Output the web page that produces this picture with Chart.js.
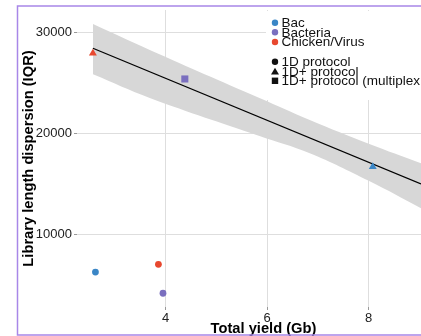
<!DOCTYPE html>
<html>
<head>
<meta charset="utf-8">
<script src="https://cdn.jsdelivr.net/npm/chart.js@4"></script>
<style>
  html, body { margin: 0; padding: 0; background: #fff; overflow: hidden; }
  canvas { display: block; }
</style>
</head>
<body>
<canvas id="yieldChart" width="421" height="336"></canvas>
<script>
// Data
const yieldGb = [2.62, 3.86, 3.95, 2.57, 4.38, 8.08];
const iqr = [6300, 7070, 4200, 27960, 25420, 16730];
const species = ["Bac", "Chicken/Virus", "Bacteria", "Chicken/Virus", "Bacteria", "Bac"];
const protocol = ["1D protocol", "1D protocol", "1D protocol", "1D+ protocol", "1D+ protocol (multiplex", "1D+ protocol"];

// linear fit and its confidence band
const fitX = [2.57, 9.03];
const fitY = [28460, 15030];
const bandX = [2.57, 3.69, 5.85, 6.84, 8.0, 9.03];
const bandUpper = [30860, 28290, 23530, 21360, 19010, 17080];
const bandLower = [25880, 23540, 19770, 18060, 15330, 12620];

const xTicks = [4, 6, 8];
const yTicks = [10000, 20000, 30000];

const speciesNames = ["Bac", "Bacteria", "Chicken/Virus"];
const protocolNames = ["1D protocol", "1D+ protocol", "1D+ protocol (multiplex"];

// styles
const speciesColor = { "Bac": "#3a86c6", "Bacteria": "#7a6fbf", "Chicken/Virus": "#e8482f" };
const protocolShape = { "1D protocol": "circle", "1D+ protocol": "triangle", "1D+ protocol (multiplex": "rect" };
const shapeRadius = { circle: 3.4, triangle: 4.6, rect: 5 };
const font = "'Liberation Sans', Arial, sans-serif";

const points = yieldGb.map((x, i) => ({ x: x, y: iqr[i] }));
const pointShapes = protocol.map(p => protocolShape[p]);

const overlay = {
    id: "overlay",
    afterDraw(chart) {
        const ctx = chart.ctx;
        ctx.save();

        // legend box
        ctx.fillStyle = "#fff";
        ctx.fillRect(266, 11, 160, 89);

        ctx.font = "13.5px " + font;
        ctx.textAlign = "left";
        ctx.textBaseline = "alphabetic";
        const colorRows = [22.7, 32.2, 42];
        speciesNames.forEach((name, i) => {
            ctx.fillStyle = speciesColor[name];
            ctx.beginPath();
            ctx.arc(275, colorRows[i], 3.2, 0, Math.PI * 2);
            ctx.fill();
            ctx.fillStyle = "#111";
            ctx.fillText(name, 281.5, colorRows[i] + 4.3);
        });

        const shapeRows = [61.8, 71.5, 80.8];
        protocolNames.forEach((name, i) => {
            ctx.fillStyle = "#111";
            const y = shapeRows[i];
            const shape = protocolShape[name];
            ctx.beginPath();
            if (shape === "circle") {
                ctx.arc(275, y, 3.2, 0, Math.PI * 2);
            } else if (shape === "triangle") {
                ctx.moveTo(275, y - 3.8);
                ctx.lineTo(279, y + 3);
                ctx.lineTo(271, y + 3);
                ctx.closePath();
            } else {
                ctx.rect(271.8, y - 3.2, 6.4, 6.4);
            }
            ctx.fill();
            ctx.fillText(name, 281.5, y + 4.3);
        });

        // axis titles
        ctx.fillStyle = "#000";
        ctx.font = "bold 14.7px " + font;
        ctx.textAlign = "center";
        ctx.fillText("Total yield (Gb)", 263.5, 333);

        ctx.save();
        ctx.translate(33.3, 158.5);
        ctx.rotate(-Math.PI / 2);
        ctx.fillText("Library length dispersion (IQR)", 0, 0);
        ctx.restore();

        // frame: top, left, bottom only
        ctx.strokeStyle = "#a887e8";
        ctx.lineWidth = 1.5;
        ctx.beginPath();
        ctx.moveTo(17.5, 6);
        ctx.lineTo(430, 6);
        ctx.moveTo(17.5, 5.25);
        ctx.lineTo(17.5, 335.75);
        ctx.moveTo(17.5, 335);
        ctx.lineTo(430, 335);
        ctx.stroke();

        ctx.restore();
    }
};

new Chart(document.getElementById("yieldChart"), {
    type: "scatter",
    data: {
        datasets: [
            {
                label: "samples",
                data: points,
                pointStyle: pointShapes,
                pointRadius: pointShapes.map(s => shapeRadius[s]),
                pointBackgroundColor: species.map(s => speciesColor[s]),
                pointBorderWidth: 0,
                order: 0
            },
            {
                type: "line",
                label: "fit",
                data: fitX.map((x, i) => ({ x: x, y: fitY[i] })),
                borderColor: "#000",
                borderWidth: 1.3,
                pointRadius: 0,
                fill: false,
                order: 1
            },
            {
                type: "line",
                label: "upper",
                data: bandX.map((x, i) => ({ x: x, y: bandUpper[i] })),
                borderWidth: 0,
                borderColor: "rgba(0,0,0,0)",
                pointRadius: 0,
                tension: 0.4,
                fill: false,
                order: 2
            },
            {
                type: "line",
                label: "lower",
                data: bandX.map((x, i) => ({ x: x, y: bandLower[i] })),
                borderWidth: 0,
                borderColor: "rgba(0,0,0,0)",
                backgroundColor: "#d7d7d7",
                pointRadius: 0,
                tension: 0.4,
                fill: "-1",
                order: 3
            }
        ]
    },
    options: {
        responsive: false,
        animation: false,
        devicePixelRatio: 1,
        layout: { autoPadding: false, padding: { top: 10, right: 0, left: 0, bottom: 0 } },
        plugins: {
            legend: { display: false },
            tooltip: { enabled: false }
        },
        scales: {
            x: {
                type: "linear",
                min: 2.257,
                max: 9.03,
                afterBuildTicks: s => { s.ticks = xTicks.map(v => ({ value: v })); },
                afterFit: s => { s.height = 29; },
                grid: { color: "#dedede", lineWidth: 1, tickLength: 3, tickColor: "#999" },
                border: { display: false },
                ticks: {
                    padding: 1,
                    color: "#222",
                    font: { family: font, size: 13 },
                    callback: v => String(v)
                }
            },
            y: {
                type: "linear",
                min: 2840,
                max: 32250,
                afterBuildTicks: s => { s.ticks = yTicks.map(v => ({ value: v })); },
                afterFit: s => { s.width = 77; },
                grid: { color: "#dedede", lineWidth: 1, tickLength: 3, tickColor: "#999" },
                border: { display: false },
                ticks: {
                    padding: 2,
                    color: "#222",
                    font: { family: font, size: 13 },
                    callback: v => String(v)
                }
            }
        }
    },
    plugins: [overlay]
});
</script>
</body>
</html>
